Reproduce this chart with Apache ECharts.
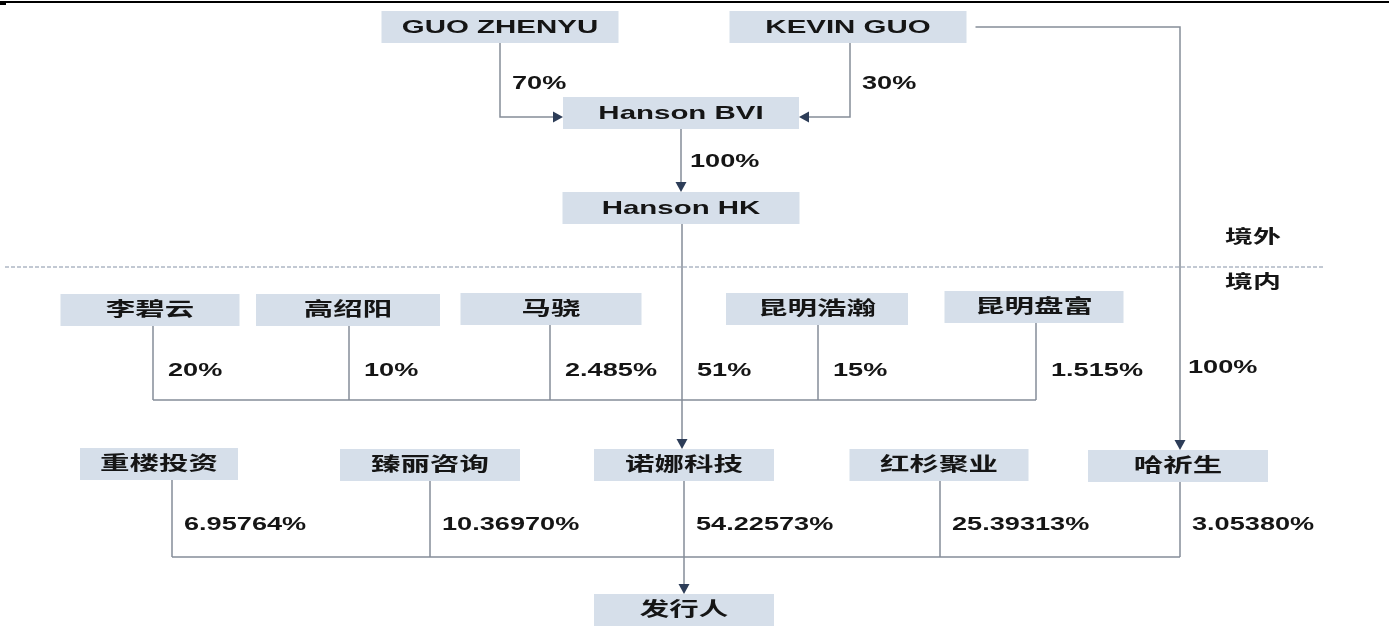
<!DOCTYPE html>
<html>
<head>
<meta charset="utf-8">
<script src="https://cdn.jsdelivr.net/npm/echarts@6/dist/echarts.min.js"></script>
<style>
  html, body { margin: 0; padding: 0; background: #fff; }
  #main { width: 1389px; height: 628px; }
</style>
</head>
<body>
<div id="main"></div>
<script>
// entities in the chart
const boxNames = ['GUO ZHENYU', 'KEVIN GUO', 'Hanson BVI', 'Hanson HK',
  '李碧云', '高绍阳', '马骁', '昆明浩瀚', '昆明盘富',
  '重楼投资', '臻丽咨询', '诺娜科技', '红杉聚业', '哈祈生', '发行人'];

// shareholders and stakes (%)
const bviOwners = ['GUO ZHENYU', 'KEVIN GUO'];
const bviShares = [70, 30];
const hkOwners = ['Hanson BVI'];
const hkShares = [100];
const nuonaOwners = ['李碧云', '高绍阳', '马骁', 'Hanson HK', '昆明浩瀚', '昆明盘富'];
const nuonaShares = [20, 10, 2.485, 51, 15, 1.515];
const haqiOwners = ['KEVIN GUO'];
const haqiShares = [100];
const issuerOwners = ['重楼投资', '臻丽咨询', '诺娜科技', '红杉聚业', '哈祈生'];
const issuerShares = [6.95764, 10.36970, 54.22573, 25.39313, 3.05380];
const regionLabels = ['境外', '境内'];

// layout: [centre x, centre y, width, stem offset] in chart units
const boxPos = {
  'GUO ZHENYU': [500, 27, 237, 0],
  'KEVIN GUO': [848, 27, 237, 2],
  'Hanson BVI': [681, 113, 236, 0],
  'Hanson HK': [681, 208, 237, 1],
  '李碧云': [150, 310, 179, 3],
  '高绍阳': [348, 310, 184, 1],
  '马骁': [551, 309, 181, -1],
  '昆明浩瀚': [817, 309, 182, 1],
  '昆明盘富': [1034, 307, 179, 2],
  '重楼投资': [159, 464, 158, 13],
  '臻丽咨询': [430, 465, 180, 0],
  '诺娜科技': [684, 465, 180, 0],
  '红杉聚业': [939, 465, 179, 1],
  '哈祈生': [1178, 466, 180, 2],
  '发行人': [684, 610, 180, 0]
};
const BOX_H = 32;
const STRETCH = 1.55;
const FONT = '"Liberation Sans", "Noto Sans CJK SC", sans-serif';
const BOX_FILL = '#d6dfea';
const LINE = '#858d98';
const ARROW = '#2d3d58';
const INK = '#151515';

const groups = {
  bvi: { target: 'Hanson BVI', route: 'elbow', labelY: 84, dx: 12 },
  hk: { target: 'Hanson HK', route: 'down', labelY: 162, dx: 9 },
  nuona: { target: '诺娜科技', route: 'bus', trunk: 'Hanson HK', busY: 400, labelY: 371, dx: 15 },
  haqi: { target: '哈祈生', route: 'side', labelY: 368, dx: 8 },
  issuer: { target: '发行人', route: 'bus', trunk: '诺娜科技', busY: 557, labelY: 525, dx: 12 }
};

const items = [];
function addEdges(g, owners, shares, fmt) {
  owners.forEach(function (o, i) {
    items.push({ kind: 'edge', group: g, from: o, text: fmt(shares[i]) + '%' });
  });
  if (groups[g].route === 'bus') items.push({ kind: 'bus', group: g, owners: owners });
}
addEdges('bvi', bviOwners, bviShares, String);
addEdges('hk', hkOwners, hkShares, String);
addEdges('nuona', nuonaOwners, nuonaShares, String);
addEdges('haqi', haqiOwners, haqiShares, String);
addEdges('issuer', issuerOwners, issuerShares, function (v) { return v.toFixed(5); });

function stemX(name) { return boxPos[name][0] + boxPos[name][3]; }
function boxTop(name) { return boxPos[name][1] - BOX_H / 2; }
function boxBottom(name) { return boxPos[name][1] + BOX_H / 2; }

function arrowHead(api, pts) {
  const a = api.coord(pts[pts.length - 2]);
  const b = api.coord(pts[pts.length - 1]);
  const len = Math.hypot(b[0] - a[0], b[1] - a[1]);
  const ux = (b[0] - a[0]) / len, uy = (b[1] - a[1]) / len;
  const L = 10, W = 5.5;
  const bx = b[0] - ux * L, by = b[1] - uy * L;
  return {
    type: 'polygon',
    shape: { points: [b, [bx - uy * W, by + ux * W], [bx + uy * W, by - ux * W]] },
    style: { fill: ARROW }
  };
}

function renderBox(params, api) {
  const name = boxNames[api.value(0)];
  const p = boxPos[name];
  const tl = api.coord([p[0] - p[2] / 2, p[1] - BOX_H / 2]);
  const br = api.coord([p[0] + p[2] / 2, p[1] + BOX_H / 2]);
  const c = api.coord([p[0], p[1]]);
  return {
    type: 'group',
    children: [
      { type: 'rect', shape: { x: tl[0], y: tl[1], width: br[0] - tl[0], height: br[1] - tl[1] },
        style: { fill: BOX_FILL } },
      { type: 'text', x: c[0], y: c[1] + 1, scaleX: STRETCH,
        style: { text: name, x: 0, y: 0, align: 'center', verticalAlign: 'middle',
          fontFamily: FONT, fontWeight: 'bold', fontSize: 19, fill: INK } }
    ]
  };
}

function renderLink(params, api) {
  const it = items[api.value(0)];
  const g = groups[it.group];
  const children = [];
  if (it.kind === 'bus') {
    const xs = it.owners.map(stemX);
    const a = api.coord([Math.min.apply(null, xs), g.busY]);
    const b = api.coord([Math.max.apply(null, xs), g.busY]);
    children.push({ type: 'line', shape: { x1: a[0], y1: a[1], x2: b[0], y2: b[1] },
      style: { stroke: LINE, lineWidth: 1.5 } });
    return { type: 'group', children: children };
  }
  let route = g.route;
  if (route === 'bus' && it.from === g.trunk) route = 'down';
  let pts, arrow = true, lx;
  if (route === 'elbow') {
    const x = stemX(it.from);
    const ty = boxPos[g.target][1] + 4;
    const p = boxPos[g.target];
    const ex = x < p[0] ? p[0] - p[2] / 2 : p[0] + p[2] / 2;
    pts = [[x, boxBottom(it.from)], [x, ty], [ex, ty]];
    lx = x + g.dx;
  } else if (route === 'down') {
    const x = stemX(it.from);
    pts = [[x, boxBottom(it.from)], [x, boxTop(g.target)]];
    lx = x + g.dx;
  } else if (route === 'side') {
    const p = boxPos[it.from];
    const x = stemX(g.target);
    pts = [[p[0] + p[2] / 2 + 9, p[1]], [x, p[1]], [x, boxTop(g.target)]];
    lx = x + g.dx;
  } else {
    const x = stemX(it.from);
    pts = [[x, boxBottom(it.from)], [x, g.busY]];
    arrow = false;
    lx = x + g.dx;
  }
  const px = pts.map(function (q) { return api.coord(q); });
  if (arrow) {
    // stop the line at the arrow base
    const n = px.length;
    const a = px[n - 2], b = px[n - 1];
    const len = Math.hypot(b[0] - a[0], b[1] - a[1]);
    px[n - 1] = [b[0] - (b[0] - a[0]) / len * 9, b[1] - (b[1] - a[1]) / len * 9];
  }
  children.push({ type: 'polyline', shape: { points: px },
    style: { stroke: LINE, lineWidth: 1.5, fill: null } });
  if (arrow) children.push(arrowHead(api, pts));
  const lc = api.coord([lx, g.labelY]);
  children.push({ type: 'text', x: lc[0], y: lc[1], scaleX: STRETCH,
    style: { text: it.text, x: 0, y: 0, align: 'left', verticalAlign: 'middle',
      fontFamily: FONT, fontWeight: 'bold', fontSize: 17.5, fill: INK } });
  return { type: 'group', children: children };
}

function renderRegion(params, api) {
  const a = api.coord([5, 267]);
  const b = api.coord([1325, 267]);
  const t1 = api.coord([1253, 238]);
  const t2 = api.coord([1253, 283]);
  const txt = function (pt, s) {
    return { type: 'text', x: pt[0], y: pt[1], scaleX: STRETCH,
      style: { text: s, x: 0, y: 0, align: 'center', verticalAlign: 'middle',
        fontFamily: FONT, fontWeight: 'bold', fontSize: 18, fill: INK } };
  };
  return {
    type: 'group',
    children: [
      { type: 'line', shape: { x1: a[0], y1: a[1], x2: b[0], y2: b[1] },
        style: { stroke: '#8592a6', lineWidth: 1, lineDash: [4, 2] } },
      txt(t1, regionLabels[0]),
      txt(t2, regionLabels[1])
    ]
  };
}

const chart = echarts.init(document.getElementById('main'));
chart.setOption({
  animation: false,
  grid: { left: 0, right: 0, top: 0, bottom: 0 },
  xAxis: { type: 'value', min: 0, max: 1389, show: false },
  yAxis: { type: 'value', min: 0, max: 628, inverse: true, show: false },
  graphic: [
    { type: 'rect', shape: { x: 0, y: 1, width: 1389, height: 2 }, style: { fill: '#000' } },
    { type: 'rect', shape: { x: 0, y: 3, width: 6, height: 2 }, style: { fill: '#000' } }
  ],
  series: [
    { type: 'custom', renderItem: renderRegion, data: [0], clip: false, silent: true },
    { type: 'custom', renderItem: renderLink, data: items.map(function (d, i) { return i; }), clip: false, silent: true },
    { type: 'custom', renderItem: renderBox, data: boxNames.map(function (d, i) { return i; }), clip: false, silent: true }
  ]
});
</script>
</body>
</html>
